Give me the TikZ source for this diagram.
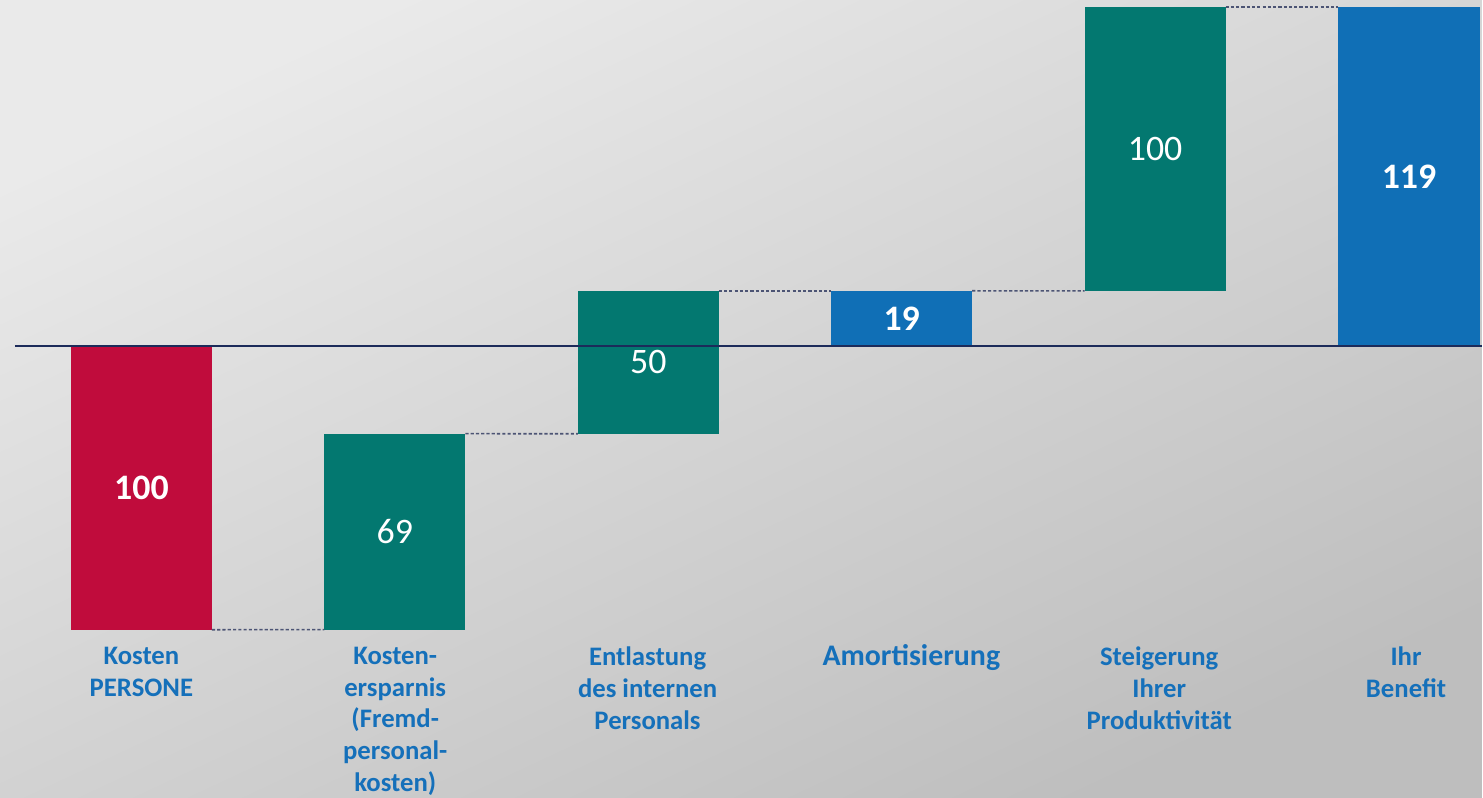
\documentclass[tikz,border=0pt]{standalone}
\usepackage{fontspec}
\setmainfont{Carlito}
\usetikzlibrary{positioning}
\definecolor{costred}{HTML}{C00C3C}
\definecolor{savegreen}{HTML}{037870}
\definecolor{benefitblue}{HTML}{106FB6}
\definecolor{axisnavy}{HTML}{1C2B5A}
\definecolor{dashgray}{HTML}{4C5474}
\definecolor{labelblue}{HTML}{1570BA}
\definecolor{bglight}{HTML}{EAEAEA}
\definecolor{bgdark}{HTML}{BEBEBE}

\begin{document}
\begin{tikzpicture}[
				x=0.01cm,y=-0.01cm,
				bar/.style={rectangle,anchor=north west,inner sep=0pt,outer sep=0pt,minimum width=1.41cm,text=white,font=\fontsize{10.2}{12}\selectfont},
				boldbar/.style={bar,font=\fontsize{10.2}{12}\selectfont\bfseries},
				caption/.style={anchor=north,align=center,inner sep=0pt,text=labelblue,font=\fontsize{7.6}{9}\selectfont\bfseries},
				link/.style={draw=dashgray,line width=0.45pt,dash pattern=on 0.9pt off 0.6pt}
				]
				
				% Hintergrund
				\shade[top color=bglight,bottom color=bgdark,shading angle=25] (0,0) rectangle (1483,798);
				
				% Balken
				\node[boldbar,fill=costred,minimum height=2.84cm] (kosten) at (71,346) {100};
				\node[bar,fill=savegreen,minimum height=1.96cm] (ersparnis) at (324.6,434) {69};
				\node[bar,fill=savegreen,minimum height=1.43cm] (entlastung) at (578.2,291) {50};
				\node[boldbar,fill=benefitblue,minimum height=0.55cm] (amort) at (831.8,291) {19};
				\node[bar,fill=savegreen,minimum height=2.84cm] (steigerung) at (1085.4,7) {100};
				\node[boldbar,fill=benefitblue,minimum height=3.39cm,minimum width=1.42cm] (benefit) at (1339,7) {119};
				
				% Nulllinie
				\coordinate (nullA) at (15,346);
				\coordinate (nullB) at (1483,346);
				\draw[axisnavy,line width=0.6pt] (nullA) -- (nullB);
				
				% Verbindungen
				\draw[link] (kosten.south east) -- (ersparnis.south west);
				\draw[link] (ersparnis.north east) -- (entlastung.south west);
				\draw[link] (entlastung.north east) -- (amort.north west);
				\draw[link] (amort.north east) -- (steigerung.south west);
				\draw[link] (steigerung.north east) -- (benefit.north west);
				
				% Beschriftungen
				\node[caption] (capA) at (141.5,647) {Kosten\\PERSONE};
				\node[caption] (capB) at (395.5,647) {Kosten-\\ersparnis\\(Fremd-\\personal-\\kosten)};
				\node[caption] (capC) at (648,647) {Entlastung\\des internen\\Personals};
				\node[caption,font=\fontsize{8.5}{10}\selectfont\bfseries] (capD) at (912,644) {Amortisierung};
				\node[caption] (capE) at (1160,647) {Steigerung\\Ihrer\\Produktivität};
				\node[caption] (capF) at (1407,647) {Ihr\\Benefit};
				
			\end{tikzpicture}
\end{document}
